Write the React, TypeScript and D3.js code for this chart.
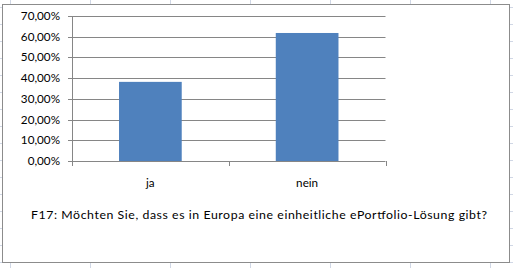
import React from "react";
import * as d3 from "d3";

const categories = ["ja", "nein"];
const values = [0.382, 0.618];
const yTicks = [0, 0.1, 0.2, 0.3, 0.4, 0.5, 0.6, 0.7];
const title = "F17: Möchten Sie, dass es in Europa eine einheitliche ePortfolio-Lösung gibt?";

const W = 513;
const H = 268;
const FONT = "Lato, 'Open Sans', sans-serif";

export default function App() {
  const y = d3.scaleLinear().domain([0, 0.7]).range([161, 16]);
  const x = d3
    .scaleBand<string>()
    .domain(categories)
    .range([72, 385.5])
    .paddingInner(0.6)
    .paddingOuter(0.3);
  const step = x.step();
  const x0 = 72;
  const x1 = 385.5;
  const fmt = (v: number) => (v * 100).toFixed(2).replace(".", ",") + "%";

  const colLines = d3.range(10, W, 80);
  const rowLines = d3.range(7, H, 17);

  const catEdges = d3.range(categories.length + 1).map((i) => x0 + i * step);

  return (
    <svg
      width={W}
      height={H}
      style={{ position: "absolute", left: 0, top: 0, background: "#fff" }}
      fontFamily={FONT}
    >
      {/* spreadsheet grid behind the chart */}
      {colLines.map((cx) => (
        <line key={"c" + cx} x1={cx + 0.5} x2={cx + 0.5} y1={0} y2={H} stroke="#d0d7e5" strokeWidth={1} />
      ))}
      {rowLines.map((ry) => (
        <line key={"r" + ry} x1={0} x2={W} y1={ry + 0.5} y2={ry + 0.5} stroke="#d0d7e5" strokeWidth={1} />
      ))}
      {/* chart area */}
      <rect x={2.5} y={4.5} width={507} height={258} fill="#fff" stroke="#8c8c8c" strokeWidth={1} />

      {/* gridlines */}
      {yTicks.map((t) => (
        <line
          key={"g" + t}
          x1={68}
          x2={x1}
          y1={Math.round(y(t)) + 0.5}
          y2={Math.round(y(t)) + 0.5}
          stroke="#868686"
          strokeWidth={1}
        />
      ))}
      {/* y axis */}
      <line x1={x0 + 0.5} x2={x0 + 0.5} y1={y(0.7)} y2={Math.round(y(0)) + 0.5} stroke="#868686" />
      {/* x tick marks */}
      {catEdges.map((ex, i) => (
        <line
          key={"xt" + i}
          x1={Math.round(ex) + 0.5}
          x2={Math.round(ex) + 0.5}
          y1={Math.round(y(0))}
          y2={Math.round(y(0)) + 5}
          stroke="#868686"
        />
      ))}

      {/* bars */}
      {categories.map((c, i) => (
        <rect
          key={c}
          x={x(c)}
          y={y(values[i])}
          width={x.bandwidth()}
          height={y(0) - y(values[i])}
          fill="#4f81bd"
        />
      ))}

      {/* y tick labels */}
      {yTicks.map((t) => (
        <text
          key={"yl" + t}
          x={60}
          y={y(t) + 4}
          textAnchor="end"
          fontSize={11.7}
          fill="#000"
        >
          {fmt(t)}
        </text>
      ))}

      {/* category labels */}
      {categories.map((c) => (
        <text
          key={"cl" + c}
          x={(x(c) as number) + x.bandwidth() / 2}
          y={186.5}
          textAnchor="middle"
          fontSize={11.7}
          fill="#000"
        >
          {c}
        </text>
      ))}

      {/* title */}
      <text x={259} y={218.5} textAnchor="middle" fontSize={12.3} fill="#000" textLength={456} lengthAdjust="spacing">
        {title}
      </text>
    </svg>
  );
}
